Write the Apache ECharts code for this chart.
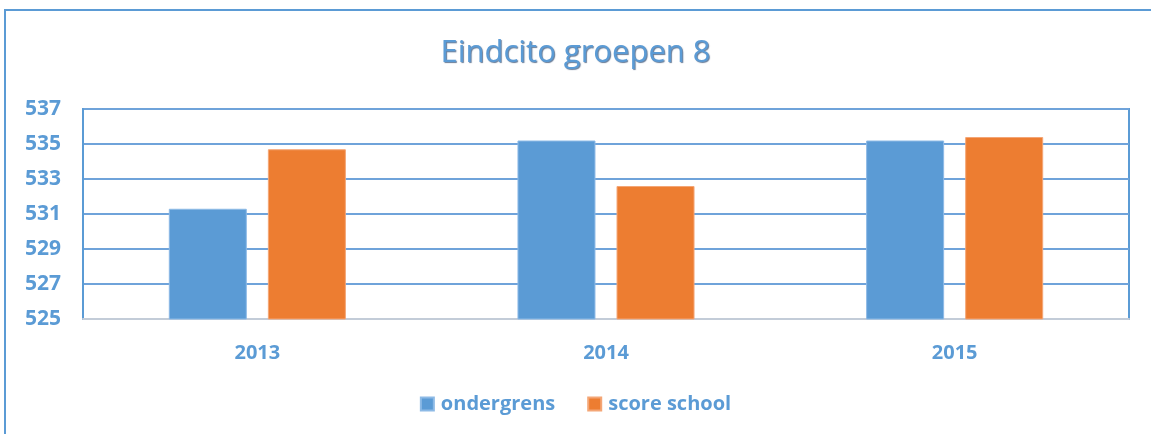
<!DOCTYPE html>
<html>
<head>
<meta charset="utf-8">
<script src="https://cdn.jsdelivr.net/npm/echarts@6/dist/echarts.min.js"></script>
<style>
  html, body { margin: 0; padding: 0; background: #fff; }
  #chart { width: 1151px; height: 434px; }
</style>
</head>
<body>
<div id="chart"></div>
<script>
// data
var years = ['2013', '2014', '2015'];
var ondergrens = [531.3, 535.2, 535.2];
var scoreSchool = [534.7, 532.6, 535.4];
var seriesNames = ['ondergrens', 'score school'];

var blue = '#5B9BD5';
var orange = '#ED7D31';
var font = '"Open Sans", "Noto Sans", sans-serif';

var chart = echarts.init(document.getElementById('chart'));

var option = {
    animation: false,
    title: {
        text: 'Eindcito groepen 8',
        left: 'center',
        top: 33,
        textStyle: {
            fontFamily: font,
            fontSize: 31,
            fontWeight: 'normal',
            color: blue,
            textShadowColor: 'rgba(40,70,110,0.7)',
            textShadowBlur: 1,
            textShadowOffsetX: 1,
            textShadowOffsetY: 1
        }
    },
    // outer chart frame, only top and left edges are inside the picture
    graphic: [{
        type: 'rect',
        shape: {x: 5, y: 10, width: 1300, height: 600},
        style: {fill: 'none', stroke: blue, lineWidth: 2},
        silent: true
    }],
    legend: {
        data: seriesNames,
        bottom: 15,
        left: 'center',
        itemWidth: 13,
        itemHeight: 13,
        itemGap: 32,
        icon: 'rect',
        textStyle: {
            fontFamily: font,
            fontSize: 20,
            fontWeight: 'bold',
            color: blue,
            padding: [0, 0, 0, 2]
        }
    },
    grid: {
        left: 83,
        right: 22,
        top: 109,
        bottom: 115,
        show: true,
        borderColor: blue,
        borderWidth: 2,
        backgroundColor: 'transparent'
    },
    xAxis: {
        type: 'category',
        data: years,
        axisTick: {show: false},
        axisLine: {lineStyle: {color: '#C3CCD8', width: 2}},
        axisLabel: {
            margin: 24,
            fontFamily: font,
            fontSize: 20,
            fontWeight: 'bold',
            color: blue
        }
    },
    yAxis: {
        type: 'value',
        min: 525,
        max: 537,
        interval: 2,
        axisLine: {show: true, lineStyle: {color: blue, width: 2}},
        axisTick: {show: false},
        splitLine: {lineStyle: {color: '#6FA3DA', width: 2}},
        axisLabel: {
            margin: 22,
            fontFamily: font,
            fontSize: 21,
            fontWeight: 'bold',
            color: blue
        }
    },
    series: [
        {
            name: seriesNames[0],
            type: 'bar',
            data: ondergrens,
            barWidth: 78,
            barGap: '27%',
            itemStyle: {color: blue, borderColor: '#8DBAE6', borderWidth: 1}
        },
        {
            name: seriesNames[1],
            type: 'bar',
            data: scoreSchool,
            barWidth: 78,
            barGap: '27%',
            itemStyle: {color: orange, borderColor: '#F4A676', borderWidth: 1}
        }
    ]
};

chart.setOption(option);
</script>
</body>
</html>
